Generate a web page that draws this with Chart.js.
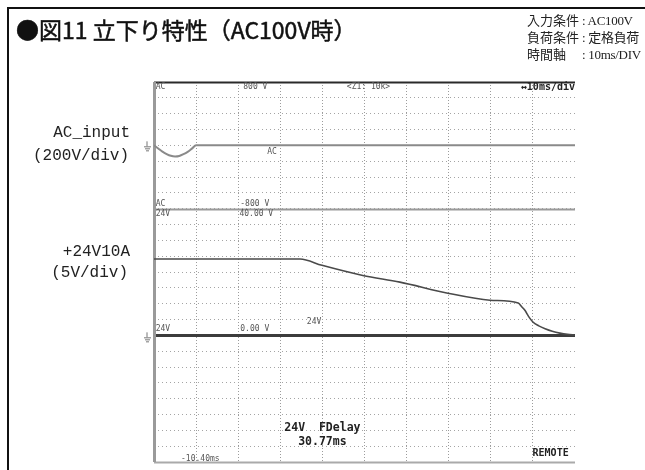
<!DOCTYPE html>
<html>
<head>
<meta charset="utf-8">
<title>立下り特性</title>
<script src="https://cdn.jsdelivr.net/npm/chart.js@4.4.0/dist/chart.umd.min.js"></script>
<style>
  body { margin: 0; background: #fff; }
  #wrap { position: relative; width: 645px; height: 470px; overflow: hidden; background: #fff; }
  #scope { position: absolute; left: 0; top: 0; }
  .frame { position: absolute; background: #111; }
  #title { position: absolute; left: 16px; top: 14px; font-size: 23px; line-height: 30px;
           -webkit-text-stroke: 0.5px #111;
           font-family: "Noto Sans CJK JP", sans-serif; color: #111; white-space: nowrap; }
  #cond { position: absolute; left: 527px; top: 12px; font-size: 13px; line-height: 17px;
          font-family: "Liberation Serif", "Noto Sans CJK JP", serif; color: #222; white-space: nowrap; }
  #cond .k { display: inline-block; width: 55px; }
  #cond .v { letter-spacing: -0.3px; }
  .side { position: absolute; right: 515px; font-size: 16px; line-height: 18px;
          font-family: "Liberation Mono", "Noto Sans CJK JP", monospace; color: #222; white-space: nowrap; }
</style>
</head>
<body>
<div id="wrap">
  <canvas id="scope" width="645" height="470"></canvas>
  <div class="frame" style="left:7px;top:7px;width:638px;height:2px"></div>
  <div class="frame" style="left:7px;top:7px;width:2px;height:463px"></div>
  <div id="title">●図11 立下り特性（AC100V時）</div>
  <div id="cond">
    <div><span class="k">入力条件</span><span class="v">: AC100V</span></div>
    <div><span class="k">負荷条件</span><span class="v">: 定格負荷</span></div>
    <div><span class="k">時間軸</span><span class="v">: 10ms/DIV</span></div>
  </div>
  <div class="side" style="top:124px">AC_input</div>
  <div class="side" style="top:147px;right:516px">(200V/div)</div>
  <div class="side" style="top:243px">+24V10A</div>
  <div class="side" style="top:264px;right:517px">(5V/div)</div>
</div>
<script>
// time axis: 10 ms per division, 10 divisions
const timeTicks = [0, 10, 20, 30, 40, 50, 60, 70, 80, 90, 100];

// AC input channel (200 V/div), V
const acTime = [0, 1, 2, 3, 4, 5, 6, 7, 8, 9, 10, 100];
const acVolt = [0, -40, -80, -110, -132, -140, -134, -112, -82, -42, 0, 0];

// +24V output channel (5 V/div), V
const outTime = [0, 34.7, 39.9, 49.6, 58.4, 69.8, 79.8, 86.5, 87.3, 88.1, 89.0, 90.0, 91.4, 92.9, 94.6, 96.4, 98.2, 100];
const outVolt = [24.1, 24.1, 22.1, 18.9, 16.8, 13.3, 11.1, 10.2, 9.1, 7.9, 5.9, 4.2, 3.0, 2.1, 1.3, 0.7, 0.3, 0.1];

// on-screen readouts of the scope [time ms, 24V-channel volts, text, align, style]
const scopeLabels = [
  [0.4, 78.3, "AC", "left", "s"],
  [21.2, 78.3, "800 V", "left", "s"],
  [45.8, 78.3, "<Z1: 10k>", "left", "s"],
  [100, 78.3, "\u219410ms/div", "right", "b"],
  [26.9, 58.0, "AC", "left", "s"],
  [0.4, 41.6, "AC", "left", "s"],
  [20.5, 41.6, "-800 V", "left", "s"],
  [0.4, 38.3, "24V", "left", "s"],
  [20.3, 38.3, "40.00 V", "left", "s"],
  [36.3, 4.1, "24V", "left", "s"],
  [0.4, 1.9, "24V", "left", "s"],
  [20.5, 1.9, "0.00 V", "left", "s"],
  [40, -29.2, "24V  FDelay", "center", "m"],
  [40, -33.7, "30.77ms", "center", "m"],
  [11, -39.0, "-10.40ms", "center", "s"],
  [98.5, -37.4, "REMOTE", "right", "r"]
];

const fonts = {
  s: "8px 'DejaVu Sans Mono'",
  b: "bold 10px 'DejaVu Sans Mono'",
  m: "bold 11.5px 'DejaVu Sans Mono'",
  r: "bold 10px 'DejaVu Sans Mono'"
};

const scopeFrame = {
  id: "scopeFrame",
  beforeDatasetsDraw(chart) {
    const { ctx, chartArea: a, scales } = chart;
    const y = scales.yOut;
    const hline = (v, color, w) => {
      const p = Math.round(y.getPixelForValue(v)) + 0.5;
      ctx.strokeStyle = color;
      ctx.lineWidth = w;
      ctx.beginPath();
      ctx.moveTo(a.left, p);
      ctx.lineTo(a.right, p);
      ctx.stroke();
    };
    ctx.save();
    hline(80, "#2a2a2a", 2);
    hline(40, "#999", 2);
    hline(-40, "#aaa", 2);
    hline(0, "#3c3c3c", 3);
    ctx.strokeStyle = "#9a9a9a";
    ctx.lineWidth = 3;
    ctx.beginPath();
    ctx.moveTo(a.left + 0.5, a.top);
    ctx.lineTo(a.left + 0.5, a.bottom);
    ctx.stroke();

    // ground marks
    const gnd = (py) => {
      const gx = a.left - 7;
      ctx.strokeStyle = "#777";
      ctx.lineWidth = 1;
      ctx.beginPath();
      ctx.moveTo(gx, py - 4); ctx.lineTo(gx, py + 1);
      ctx.moveTo(gx - 3, py + 1.5); ctx.lineTo(gx + 4, py + 1.5);
      ctx.moveTo(gx - 2, py + 3.5); ctx.lineTo(gx + 3, py + 3.5);
      ctx.moveTo(gx - 1, py + 5.5); ctx.lineTo(gx + 2, py + 5.5);
      ctx.stroke();
    };
    gnd(scales.yAC.getPixelForValue(0));
    gnd(y.getPixelForValue(0) + 1);
    ctx.restore();
  },
  afterDatasetsDraw(chart) {
    const { ctx, scales } = chart;
    ctx.save();
    ctx.textBaseline = "middle";
    scopeLabels.forEach(([t, v, text, align, st]) => {
      ctx.font = fonts[st];
      ctx.fillStyle = st === "s" ? "#555" : "#222";
      ctx.textAlign = align;
      ctx.fillText(text, scales.x.getPixelForValue(t), scales.yOut.getPixelForValue(v));
    });
    ctx.restore();
  }
};

new Chart(document.getElementById("scope"), {
  type: "line",
  data: {
    datasets: [
      {
        label: "AC_input",
        data: acTime.map((t, i) => ({ x: t, y: acVolt[i] })),
        yAxisID: "yAC",
        borderColor: "#8a8a8a",
        borderWidth: 2,
        pointRadius: 0,
        cubicInterpolationMode: "monotone"
      },
      {
        label: "+24V10A",
        data: outTime.map((t, i) => ({ x: t, y: outVolt[i] })),
        yAxisID: "yOut",
        borderColor: "#4a4a4a",
        borderWidth: 1.6,
        pointRadius: 0,
        cubicInterpolationMode: "monotone"
      }
    ]
  },
  options: {
    responsive: false,
    animation: false,
    layout: { padding: { left: 154, right: 70, top: 82, bottom: 8 } },
    plugins: { legend: { display: false }, tooltip: { enabled: false } },
    scales: {
      x: {
        type: "linear",
        min: 0,
        max: 100,
        afterBuildTicks: (s) => { s.ticks = timeTicks.map(v => ({ value: v })); },
        ticks: { display: false },
        grid: {
          drawTicks: false,
          color: (c) => (c.tick && c.tick.value === 100 ? "rgba(0,0,0,0)" : "#9c9c9c")
        },
        border: { display: false, dash: [1, 2] }
      },
      yOut: {
        type: "linear",
        position: "left",
        min: -40,
        max: 80,
        ticks: { display: false, stepSize: 5 },
        grid: { drawTicks: false, color: "#a4a4a4" },
        border: { display: false, dash: [1, 3] }
      },
      yAC: {
        type: "linear",
        display: false,
        min: -4000,
        max: 800
      }
    }
  },
  plugins: [scopeFrame]
});
</script>
</body>
</html>
